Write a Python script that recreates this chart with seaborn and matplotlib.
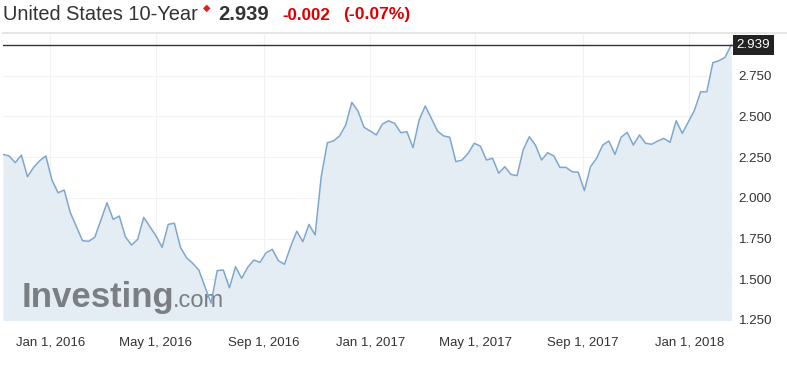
import numpy as np
import pandas as pd
import matplotlib
matplotlib.use("Agg")
import matplotlib.pyplot as plt
import matplotlib.dates as mdates
from matplotlib.lines import Line2D
import seaborn as sns

# ---- data ----
start_date = "2015-11-08"
yields = [
    2.267, 2.257, 2.216, 2.263, 2.130, 2.187, 2.228, 2.257, 2.109, 2.031,
    2.048, 1.909, 1.823, 1.737, 1.733, 1.758, 1.864, 1.970, 1.868, 1.888,
    1.761, 1.710, 1.745, 1.880, 1.823, 1.766, 1.696, 1.837, 1.844, 1.696,
    1.632, 1.598, 1.557, 1.454, 1.354, 1.553, 1.557, 1.448, 1.577, 1.506,
    1.574, 1.618, 1.604, 1.663, 1.684, 1.614, 1.592, 1.700, 1.795, 1.731,
    1.837, 1.772, 2.130, 2.338, 2.349, 2.380, 2.447, 2.586, 2.533, 2.433,
    2.410, 2.386, 2.453, 2.473, 2.457, 2.400, 2.406, 2.308, 2.478, 2.564,
    2.488, 2.410, 2.380, 2.372, 2.222, 2.232, 2.273, 2.335, 2.318, 2.232,
    2.243, 2.151, 2.191, 2.144, 2.136, 2.294, 2.375, 2.324, 2.232, 2.277,
    2.257, 2.187, 2.187, 2.160, 2.157, 2.044, 2.191, 2.243, 2.324, 2.349,
    2.267, 2.372, 2.402, 2.324, 2.386, 2.335, 2.329, 2.349, 2.365, 2.341,
    2.473, 2.396, 2.467, 2.539, 2.651, 2.651, 2.830, 2.842, 2.863, 2.939,
]
last_value = 2.939
change = "-0.002"
change_pct = "(-0.07%)"
title = "United States 10-Year"
y_ticks = [1.25, 1.50, 1.75, 2.00, 2.25, 2.50, 2.75]
x_ticks = ["2016-01-01", "2016-05-01", "2016-09-01", "2017-01-01",
           "2017-05-01", "2017-09-01", "2018-01-01"]
x_tick_labels = ["Jan 1, 2016", "May 1, 2016", "Sep 1, 2016", "Jan 1, 2017",
                 "May 1, 2017", "Sep 1, 2017", "Jan 1, 2018"]

dates = pd.date_range(start_date, periods=len(yields), freq="W-SUN")
df = pd.DataFrame({"date": dates, "yield": yields})

# ---- style ----
sns.set_style("white")
plt.rcParams["font.family"] = ["Liberation Sans", "DejaVu Sans"]

W, H = 787, 366
fig = plt.figure(figsize=(W / 100, H / 100), dpi=100)
ax = fig.add_axes([3 / W, 1 - 320 / H, 730 / W, 287 / H])

line_c = "#7fa7cd"
fill_c = "#e4edf4"
txt_c = "#333333"

ax.fill_between(df["date"], df["yield"], 1.0, color=fill_c, lw=0, zorder=1)
sns.lineplot(data=df, x="date", y="yield", ax=ax, color=line_c, lw=1.1, zorder=3)

ax.set_xlim(dates[0], dates[-1] + pd.Timedelta(days=2))
ax.set_ylim(1.25, 3.012)

ax.yaxis.tick_right()
ax.set_yticks(y_ticks)
ax.set_yticklabels([f"{v:.3f}" for v in y_ticks])
xt = pd.to_datetime(x_ticks)
ax.set_xticks(xt)
ax.set_xticklabels(x_tick_labels)
ax.tick_params(axis="y", length=0, pad=4, labelsize=9.6, labelcolor=txt_c)
ax.tick_params(axis="x", length=0, pad=12, labelsize=9.5, labelcolor=txt_c)
ax.set_xlabel("")
ax.set_ylabel("")

ax.grid(True, color="#f0f2f4", lw=0.8, zorder=0)
ax.set_axisbelow(True)
for s in ax.spines.values():
    s.set_visible(False)

# current value line and label box
ax.axhline(last_value, color="#333333", lw=1.0, zorder=4)
ax.annotate(f"{last_value:.3f}", xy=(1.0, last_value), xycoords=("axes fraction", "data"),
            xytext=(2.5, 0), textcoords="offset points", ha="left", va="center",
            fontsize=9.6, color="white",
            bbox=dict(boxstyle="square,pad=0.28", fc="#222222", ec="none"),
            annotation_clip=False, zorder=5)

# top border line
fig.add_artist(Line2D([3 / W, 1.0], [1 - 33 / H, 1 - 33 / H], color="#e6e6e6", lw=1.5))

# watermark
ax.text(19 / 730, (320 - 298) / 287, "Investing", transform=ax.transAxes, fontsize=25,
        fontweight="bold", color="#7b7e82", va="center", ha="left", zorder=2)
ax.text(170 / 730, (320 - 301) / 287, ".com", transform=ax.transAxes, fontsize=17,
        color="#7b7e82", va="center", ha="left", zorder=2)

# header
ty = 1 - 15 / H
fig.text(3 / W, ty, title, fontsize=14.4, color=txt_c, va="center", ha="left")
fig.text(207 / W, 1 - 8 / H, "\u25c6", fontsize=7, color="#e02020", va="center", ha="center",
         family=["DejaVu Sans"])
fig.text(218 / W, ty, f"{last_value:.3f}", fontsize=14.6, color=txt_c, fontweight="bold",
         va="center", ha="left")
fig.text(282 / W, ty, change, fontsize=12.2, color="#dd0000", fontweight="bold",
         va="center", ha="left")
fig.text(343 / W, ty, change_pct, fontsize=12.6, color="#dd0000", fontweight="bold",
         va="center", ha="left")

fig.savefig("out.png", dpi=100)
